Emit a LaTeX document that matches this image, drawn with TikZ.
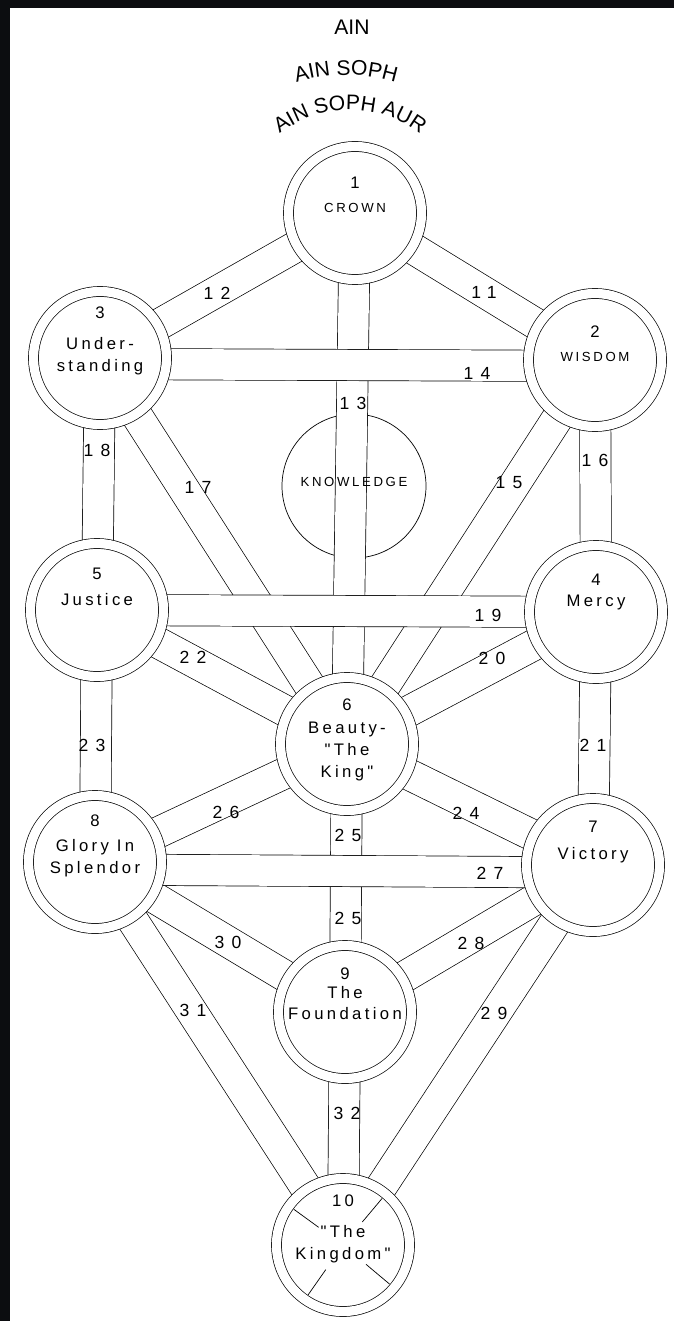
\documentclass[tikz,border=0pt]{standalone}
\usepackage{fontspec}
\setmainfont{Liberation Sans}
\newfontfamily\sefirafont[LetterSpace=20]{Liberation Sans}
\newfontfamily\pathfont[LetterSpace=40]{Liberation Sans}
\usetikzlibrary{calc,decorations.text}
\definecolor{scanframe}{RGB}{12,13,16}
\newcommand\sefcaps[1]{{\fontsize{7.5}{12.5}\selectfont #1}}
\newcommand\topfont{\fontsize{12}{14}\selectfont}
\pgfdeclarelayer{bg}
\pgfdeclarelayer{paths}
\pgfdeclarelayer{crossing}
\pgfsetlayers{bg,paths,crossing,main}

\begin{document}
\begin{tikzpicture}[line width=0.9pt,
    sefira/.style={circle, draw, double, double distance=0.185cm, fill=white, minimum size=2.66cm, inner sep=0pt},
    band/.style={draw, double=white, double distance=0.61cm},
    txt/.style={font=\sefirafont\fontsize{9.5}{12.5}\selectfont, align=center, inner sep=0pt},
    num/.style={font=\pathfont\fontsize{10}{12}\selectfont, inner sep=0pt}]

    % frame of the scan
    \begin{pgfonlayer}{bg}
        \fill[scanframe] (0,0) rectangle (13.48,-26.42);
        \fill[white] (0.2,-0.16) rectangle (13.48,-26.42);
    \end{pgfonlayer}
    \useasboundingbox (0,0) rectangle (13.48,-26.42);

    % the ten sefirot
    \node[sefira] (s1) at (7.10,-4.26) {};
    \node[sefira] (s2) at (11.90,-7.20) {};
    \node[sefira] (s3) at (2.00,-7.16) {};
    \node[sefira] (s4) at (11.92,-12.24) {};
    \node[sefira] (s5) at (1.94,-12.20) {};
    \node[sefira] (s6) at (6.94,-14.88) {};
    \node[sefira] (s7) at (11.86,-17.30) {};
    \node[sefira] (s8) at (1.90,-17.24) {};
    \node[sefira] (s9) at (6.90,-20.24) {};
    \node[sefira] (s10) at (6.86,-24.90) {};

    \node[txt] (t1) at ([yshift=0.37cm]s1) {1\\[1pt]\sefcaps{CROWN}};
    \node[txt] (t2) at ([yshift=0.32cm]s2) {2\\[1pt]\sefcaps{WISDOM}};
    \node[txt] (t3) at ([yshift=0.34cm]s3) {3\\[5pt]Under-\\standing};
    \node[txt] (t4) at ([yshift=0.40cm]s4) {4\\Mercy};
    \node[txt] (t5) at ([yshift=0.46cm]s5) {5\\[2pt]Justice};
    \node[txt] (t6) at ([yshift=0.08cm]s6) {6\\[1pt]Beauty-\\"The\\King"};
    \node[txt] (t7) at ([yshift=0.46cm]s7) {7\\[3pt]Victory};
    \node[txt] (t8) at ([yshift=0.32cm]s8) {8\\[2pt]Glory In\\Splendor};
    \node[txt] (t9) at ([yshift=0.36cm]s9) {9\\[-2pt]The\\Foundation};
    \node[txt] (t10) at ([yshift=0.32cm]s10) {10\\[5pt]"The\\Kingdom"};
    \foreach \a in {144,50,235,320}
        \draw ($(s10.center)!0.45!(s10.\a)$) -- ($(s10.center)!0.91!(s10.\a)$);

    % AIN, AIN SOPH, AIN SOPH AUR
    \node[font=\topfont] (ain) at (7.04,-0.54) {AIN};
    \path[decorate, decoration={text along path, text={|\topfont|AIN SOPH}, text align=center}]
        (5.22,-1.956) arc[start angle=120, end angle=60, radius=3.4cm];
    \path[decorate, decoration={text along path, text={|\topfont|AIN SOPH AUR}, text align=center}]
        (5.116,-3.181) arc[start angle=145, end angle=35, radius=2.3cm];

    % the paths
    \begin{pgfonlayer}{paths}
        \node[circle, draw, minimum size=2.88cm] (dk) at (7.08,-9.72) {};
        \draw[band] (s1) -- (s6);
        \draw[band] (s1) -- (s2);
        \draw[band] (s1) -- (s3);
        \draw[band] (s2) -- (s4);
        \draw[band] (s3) -- (s5);
        \draw[band] (s2) -- (s6);
        \draw[band] (s3) -- (s6);
        \draw[band] (s4) -- (s6);
        \draw[band] (s5) -- (s6);
        \draw[band] (s4) -- (s7);
        \draw[band] (s5) -- (s8);
        \draw[band] (s6) -- (s7);
        \draw[band] (s6) -- (s8);
        \draw[band] (s6) -- (s9);
        \draw[band] (s7) -- (s9);
        \draw[band] (s8) -- (s9);
        \draw[band] (s7) -- (s10);
        \draw[band] (s8) -- (s10);
        \draw[band] (s9) -- (s10);
    \end{pgfonlayer}
    \begin{pgfonlayer}{crossing}
        \draw[band] ([yshift=-0.12cm]s3.center) -- ([yshift=-0.12cm]s2.center);
        \draw[band] (s5.center) -- (s4.center);
        \draw[band] ([yshift=-0.15cm]s8.center) -- ([yshift=-0.15cm]s7.center);
    \end{pgfonlayer}
    \node[txt] (tk) at (7.08,-9.64) {\sefcaps{KNOWLEDGE}};

    % path numbers
    \node[num] (p11) at (9.68,-5.84) {11};
    \node[num] (p12) at (4.34,-5.86) {12};
    \node[num] (p13) at (7.06,-8.06) {13};
    \node[num] (p14) at (9.54,-7.46) {14};
    \node[num] (p15) at (10.18,-9.66) {15};
    \node[num] (p16) at (11.90,-9.20) {16};
    \node[num] (p17) at (3.96,-9.74) {17};
    \node[num] (p18) at (1.94,-9.00) {18};
    \node[num] (p19) at (9.76,-12.30) {19};
    \node[num] (p20) at (9.84,-13.16) {20};
    \node[num] (p21) at (11.86,-14.90) {21};
    \node[num] (p22) at (3.86,-13.14) {22};
    \node[num] (p23) at (1.84,-14.90) {23};
    \node[num] (p24) at (9.32,-16.26) {24};
    \node[num] (p25a) at (6.96,-16.70) {25};
    \node[num] (p25b) at (6.96,-18.36) {25};
    \node[num] (p26) at (4.52,-16.24) {26};
    \node[num] (p27) at (9.80,-17.46) {27};
    \node[num] (p28) at (9.42,-18.86) {28};
    \node[num] (p29) at (9.88,-20.26) {29};
    \node[num] (p30) at (4.56,-18.84) {30};
    \node[num] (p31) at (3.86,-20.20) {31};
    \node[num] (p32) at (6.94,-22.26) {32};
\end{tikzpicture}
\end{document}
